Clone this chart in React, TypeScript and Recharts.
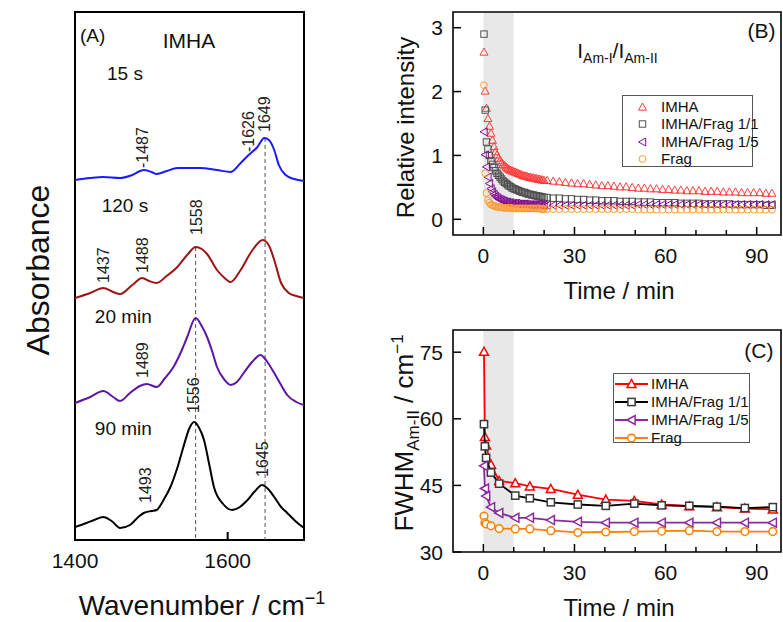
import React from "react";
import {
  ComposedChart,
  ScatterChart,
  Line,
  Scatter,
  XAxis,
  YAxis,
  ReferenceArea,
  ReferenceLine,
  ReferenceDot,
} from "recharts";

const FONT = "Arial, 'Liberation Sans', Helvetica, sans-serif";

// ---------- Panel A: IR spectra (absorbance incl. stacking offset, a.u.)
const WN_15S = [1400, 1420, 1437, 1459, 1475, 1490, 1500, 1507, 1520, 1534, 1550, 1564, 1586, 1604, 1617, 1626, 1639, 1648, 1654, 1661, 1667, 1676, 1687, 1700];
const ABS_15S = [3.6, 3.62, 3.63, 3.62, 3.65, 3.7, 3.68, 3.66, 3.69, 3.72, 3.72, 3.72, 3.7, 3.68, 3.77, 3.84, 3.93, 4.02, 4.0, 3.9, 3.75, 3.65, 3.61, 3.59];

const WN_120S = [1400, 1420, 1437, 1450, 1459, 1475, 1488, 1497, 1507, 1520, 1534, 1548, 1558, 1566, 1573, 1586, 1596, 1604, 1617, 1630, 1646, 1655, 1661, 1670, 1680, 1690, 1700];
const ABS_120S = [2.42, 2.47, 2.52, 2.48, 2.46, 2.55, 2.62, 2.59, 2.57, 2.64, 2.73, 2.86, 2.93, 2.91, 2.86, 2.7, 2.62, 2.58, 2.7, 2.87, 3.0, 2.93, 2.8, 2.57, 2.47, 2.44, 2.42];

const WN_20MIN = [1400, 1420, 1437, 1450, 1459, 1472, 1485, 1494, 1507, 1518, 1529, 1540, 1547, 1558, 1566, 1573, 1580, 1586, 1596, 1604, 1612, 1621, 1632, 1643, 1652, 1661, 1670, 1678, 1690, 1700];
const ABS_20MIN = [1.37, 1.43, 1.49, 1.43, 1.39, 1.47, 1.54, 1.56, 1.53, 1.62, 1.73, 1.9, 2.03, 2.22, 2.14, 2.03, 1.88, 1.73, 1.6, 1.55, 1.58, 1.67, 1.78, 1.85, 1.78, 1.67, 1.55, 1.45, 1.38, 1.35];

const WN_90MIN = [1400, 1415, 1425, 1437, 1448, 1459, 1472, 1483, 1490, 1500, 1507, 1516, 1525, 1534, 1542, 1550, 1556, 1562, 1569, 1576, 1582, 1594, 1606, 1616, 1626, 1636, 1645, 1653, 1661, 1670, 1678, 1690, 1700];
const ABS_90MIN = [0.13, 0.17, 0.2, 0.23, 0.19, 0.12, 0.15, 0.23, 0.27, 0.29, 0.3, 0.4, 0.53, 0.72, 0.93, 1.12, 1.18, 1.13, 1.0, 0.75, 0.53, 0.36, 0.3, 0.33, 0.4, 0.49, 0.55, 0.51, 0.43, 0.33, 0.27, 0.18, 0.12];

const SPECTRA = [
  { name: "15 s", wn: WN_15S, abs: ABS_15S, color: "#1a1aff" },
  { name: "120 s", wn: WN_120S, abs: ABS_120S, color: "#9e1414" },
  { name: "20 min", wn: WN_20MIN, abs: ABS_20MIN, color: "#5b16a8" },
  { name: "90 min", wn: WN_90MIN, abs: ABS_90MIN, color: "#000000" },
];

// text anchors in data coords (wavenumber, absorbance)
const TIME_LABELS = [
  { wn: 1442, a: 4.6, text: "15 s" },
  { wn: 1435, a: 3.28, text: "120 s" },
  { wn: 1426, a: 2.17, text: "20 min" },
  { wn: 1426, a: 1.05, text: "90 min" },
];
const PEAK_LABELS = [
  { wn: 1489, a: 3.72, text: "-1487" },
  { wn: 1627, a: 3.88, text: "-1626" },
  { wn: 1648, a: 4.08, text: "1649" },
  { wn: 1559, a: 3.05, text: "1558" },
  { wn: 1437, a: 2.57, text: "1437" },
  { wn: 1489, a: 2.67, text: "1488" },
  { wn: 1489, a: 1.62, text: "1489" },
  { wn: 1555, a: 1.27, text: "1556" },
  { wn: 1493, a: 0.37, text: "1493" },
  { wn: 1645, a: 0.63, text: "1645" },
];
const DASHED = [
  { wn: 1558, top: 2.93 },
  { wn: 1649, top: 4.02 },
];
const A_X = [1400, 1700];
const A_Y = [0, 5.28];

// ---------- Panel B: I(Am-I)/I(Am-II) vs time
const TIME_B = [0.2, 0.6, 1, 1.5, 2, 2.5, 3,
  3.5, 4, 4.5, 5, 5.5, 6, 6.5, 7, 7.5, 8, 8.5, 9, 9.5, 10, 10.5, 11, 11.5, 12, 12.5, 13, 13.5, 14, 14.5, 15, 15.5, 16, 16.5, 17, 17.5, 18, 18.5, 19, 19.5, 20,
  21, 23, 25, 27, 29, 31, 33, 35, 37, 39, 41, 43, 45, 47, 49, 51, 53, 55, 57, 59, 61, 63, 65, 67, 69, 71, 73, 75, 77, 79, 81, 83, 85, 87, 89, 91, 93, 95];
const RATIO_IMHA = [2.62, 2.01, 1.74, 1.58, 1.46, 1.35, 1.24,
  1.14, 1.06, 1.01, 0.96, 0.92, 0.89, 0.86, 0.84, 0.82, 0.8, 0.78, 0.77, 0.76, 0.75, 0.74, 0.73, 0.72, 0.71, 0.7, 0.69, 0.68, 0.68, 0.67, 0.66, 0.66, 0.65, 0.65, 0.64, 0.64, 0.63, 0.63, 0.62, 0.62, 0.61,
  0.61, 0.6, 0.59, 0.58, 0.57, 0.56, 0.56, 0.55, 0.54, 0.53, 0.53, 0.52, 0.51, 0.51, 0.5, 0.49, 0.49, 0.48, 0.48, 0.47, 0.47, 0.46, 0.46, 0.45, 0.45, 0.45, 0.44, 0.44, 0.44, 0.43, 0.43, 0.43, 0.42, 0.42, 0.42, 0.42, 0.41, 0.41];
const RATIO_11 = [2.9, 1.71, 1.21, 1.1, 1.0, 0.92, 0.86,
  0.81, 0.76, 0.72, 0.69, 0.66, 0.63, 0.6, 0.58, 0.56, 0.54, 0.52, 0.51, 0.49, 0.48, 0.47, 0.46, 0.45, 0.44, 0.43, 0.42, 0.42, 0.41, 0.4, 0.39, 0.39, 0.38, 0.38, 0.37, 0.37, 0.36, 0.36, 0.35, 0.35, 0.34,
  0.34, 0.33, 0.33, 0.32, 0.32, 0.31, 0.31, 0.3, 0.3, 0.29, 0.29, 0.29, 0.28, 0.28, 0.28, 0.27, 0.27, 0.27, 0.26, 0.26, 0.26, 0.26, 0.25, 0.25, 0.25, 0.25, 0.24, 0.24, 0.24, 0.24, 0.24, 0.23, 0.23, 0.23, 0.23, 0.23, 0.22, 0.22];
const RATIO_15 = [1.37, 1.01, 0.82, 0.66, 0.56, 0.48, 0.43,
  0.39, 0.36, 0.34, 0.32, 0.31, 0.3, 0.29, 0.28, 0.27, 0.27, 0.26, 0.26, 0.25, 0.25, 0.25, 0.25, 0.24, 0.24, 0.24, 0.24, 0.24, 0.24, 0.23, 0.23, 0.23, 0.23, 0.23, 0.23, 0.23, 0.23, 0.23, 0.22, 0.22, 0.22,
  0.22, 0.22, 0.22, 0.22, 0.22, 0.22, 0.22, 0.22, 0.22, 0.22, 0.22, 0.22, 0.22, 0.22, 0.22, 0.23, 0.23, 0.23, 0.23, 0.23, 0.23, 0.23, 0.23, 0.23, 0.23, 0.23, 0.23, 0.23, 0.23, 0.23, 0.23, 0.23, 0.23, 0.23, 0.23, 0.23, 0.23, 0.23];
const RATIO_FRAG = [2.1, 0.72, 0.41, 0.3, 0.26, 0.23, 0.22,
  0.21, 0.2, 0.2, 0.19, 0.19, 0.19, 0.18, 0.18, 0.18, 0.18, 0.18, 0.18, 0.17, 0.17, 0.17, 0.17, 0.17, 0.17, 0.17, 0.17, 0.17, 0.17, 0.17, 0.17, 0.17, 0.17, 0.17, 0.17, 0.17, 0.17, 0.17, 0.16, 0.16, 0.16,
  0.16, 0.16, 0.16, 0.16, 0.16, 0.16, 0.16, 0.16, 0.16, 0.16, 0.16, 0.16, 0.16, 0.16, 0.16, 0.15, 0.15, 0.15, 0.15, 0.15, 0.15, 0.15, 0.15, 0.15, 0.15, 0.15, 0.15, 0.15, 0.15, 0.15, 0.15, 0.15, 0.15, 0.15, 0.15, 0.15, 0.15, 0.15];

// ---------- Panel C: FWHM(Am-II) vs time
const TIME_C = [0.2, 0.5, 0.9, 2.5, 5.2, 10.5, 15.3, 22.2, 31.1, 40.3, 49.7, 58.7, 67.8, 76.9, 86.1, 95.3];
const FWHM_IMHA = [75.1, 55.9, 54.0, 49.7, 46.0, 45.5, 44.8, 44.2, 42.9, 41.8, 41.5, 40.7, 40.3, 40.1, 39.8, 39.6];
const FWHM_11 = [58.8, 53.8, 51.2, 47.9, 45.4, 42.7, 42.1, 41.2, 40.7, 40.4, 40.9, 40.5, 40.4, 40.2, 39.9, 40.1];
const FWHM_15 = [49.4, 44.3, 42.6, 40.1, 38.8, 37.7, 37.7, 37.2, 36.8, 36.6, 36.6, 36.6, 36.6, 36.6, 36.6, 36.6];
const FWHM_FRAG = [38.1, 36.6, 36.3, 35.9, 35.3, 35.2, 35.2, 34.8, 34.4, 34.5, 34.6, 34.7, 34.8, 34.6, 34.6, 34.6];

const SERIES_NAMES = ["IMHA", "IMHA/Frag 1/1", "IMHA/Frag 1/5", "Frag"];
const B_STYLE = [
  { kind: "up", color: "#ff3c3c" },
  { kind: "square", color: "#505050" },
  { kind: "left", color: "#820e96" },
  { kind: "circle", color: "#ff9a2e" },
];
const C_STYLE = [
  { kind: "up", line: "#ff0000", mark: "#ff0000" },
  { kind: "square", line: "#000000", mark: "#3a3a3a" },
  { kind: "left", line: "#8b2a9e", mark: "#8b2a9e" },
  { kind: "circle", line: "#ff8000", mark: "#ff8000" },
];
const B_VALUES = [RATIO_IMHA, RATIO_11, RATIO_15, RATIO_FRAG];
const C_VALUES = [FWHM_IMHA, FWHM_11, FWHM_15, FWHM_FRAG];

const T_DOMAIN = [-10, 98];
const T_TICKS = [0, 10, 20, 30, 40, 50, 60, 70, 80, 90];
const B_Y = [-0.246, 3.246];
const B_TICKS = [0, 1, 2, 3];
const C_Y = [30, 80];
const C_TICKS = [30, 45, 60, 75];

function Marker({ kind, cx, cy, size, stroke, fill, sw }: any) {
  const h = size / 2;
  const common = { stroke, fill, strokeWidth: sw };
  if (kind === "up")
    return <polygon {...common} points={`${cx},${cy - h} ${cx - h},${cy + h * 0.8} ${cx + h},${cy + h * 0.8}`} />;
  if (kind === "left")
    return <polygon {...common} points={`${cx - h},${cy} ${cx + h * 0.8},${cy - h} ${cx + h * 0.8},${cy + h}`} />;
  if (kind === "square")
    return <rect {...common} x={cx - h * 0.8} y={cy - h * 0.8} width={h * 1.6} height={h * 1.6} />;
  return <circle {...common} cx={cx} cy={cy} r={h * 0.85} />;
}

// ticks point inward, labels drawn by hand
function SpecTick({ x, y, payload }: any) {
  return (
    <g>
      <line x1={x} x2={x} y1={y} y2={y - 8} stroke="#000" strokeWidth={2} />
      <text x={x} y={y + 28} textAnchor="middle" fontSize={21} fontFamily={FONT} fill="#111">
        {payload.value}
      </text>
    </g>
  );
}

function TimeTick({ x, y, payload }: any) {
  const major = payload.value % 30 === 0;
  return (
    <g>
      <line x1={x} x2={x} y1={y} y2={y - (major ? 8 : 5)} stroke="#000" strokeWidth={1.5} />
      {major && (
        <text x={x} y={y + 28} textAnchor="middle" fontSize={21} fontFamily={FONT} fill="#111">
          {payload.value}
        </text>
      )}
    </g>
  );
}

function ValueTick({ x, y, payload }: any) {
  return (
    <g>
      <line x1={x} x2={x + 8} y1={y} y2={y} stroke="#000" strokeWidth={1.5} />
      <text x={x - 10} y={y + 7.5} textAnchor="end" fontSize={21} fontFamily={FONT} fill="#111">
        {payload.value}
      </text>
    </g>
  );
}

function AxisTitle({ viewBox, variant }: any) {
  const vb = viewBox || { x: 0, y: 0, width: 0, height: 0 };
  const base = { fontFamily: FONT, fill: "#111" };
  if (variant === "wn")
    return (
      <text x={202} y={vb.y + 75} textAnchor="middle" fontSize={28} {...base}>
        Wavenumber / cm<tspan dy={-11} fontSize={18}>−1</tspan>
      </text>
    );
  if (variant === "time")
    return (
      <text x={vb.x + vb.width / 2 + 2} y={vb.y + 64} textAnchor="middle" fontSize={24} {...base}>
        Time / min
      </text>
    );
  const cy = vb.y + vb.height / 2;
  if (variant === "abs")
    return (
      <text x={49} y={cy - 6} transform={`rotate(-90 49 ${cy - 6})`} textAnchor="middle" fontSize={32} {...base}>
        Absorbance
      </text>
    );
  if (variant === "rel")
    return (
      <text x={34} y={cy + 4} transform={`rotate(-90 34 ${cy + 4})`} textAnchor="middle" fontSize={24} {...base}>
        Relative intensity
      </text>
    );
  const fy = cy - 8;
  return (
    <text x={33} y={fy} transform={`rotate(-90 33 ${fy})`} textAnchor="middle" fontSize={26} {...base}>
      FWHM<tspan dy={6} fontSize={17}>Am-II</tspan>
      <tspan dy={-6} fontSize={26}> / cm</tspan>
      <tspan dy={-10} fontSize={17}>−1</tspan>
    </text>
  );
}

const hText = (text: string, size: number, anchor = "start") => (p: any) => (
  <text x={p.cx} y={p.cy} textAnchor={anchor} fontSize={size} fontFamily={FONT} fill="#111">
    {text}
  </text>
);

const vText = (text: string) => (p: any) => (
  <text
    x={p.cx}
    y={p.cy}
    transform={`rotate(-90 ${p.cx} ${p.cy})`}
    textAnchor="start"
    dominantBaseline="central"
    fontSize={16}
    fontFamily={FONT}
    fill="#222"
  >
    {text}
  </text>
);

function PanelA() {
  return (
    <ComposedChart width={340} height={622} margin={{ top: 12, right: 36, bottom: 0, left: 0 }}>
      <XAxis
        type="number"
        dataKey="wn"
        domain={A_X}
        ticks={[1400, 1600]}
        interval={0}
        allowDataOverflow
        height={82}
        tickSize={0}
        tickMargin={0}
        tickLine={false}
        axisLine={false}
        tick={SpecTick}
        label={<AxisTitle variant="wn" />}
      />
      <YAxis
        type="number"
        domain={A_Y}
        allowDataOverflow
        width={75}
        tick={false}
        tickLine={false}
        axisLine={false}
        label={<AxisTitle variant="abs" />}
      />
      <ReferenceArea x1={A_X[0]} x2={A_X[1]} y1={A_Y[0]} y2={A_Y[1]} fill="none" stroke="#000" strokeWidth={2} />
      {DASHED.map((d) => (
        <ReferenceLine
          key={d.wn}
          segment={[
            { x: d.wn, y: d.top },
            { x: d.wn, y: A_Y[0] },
          ]}
          stroke="#555"
          strokeWidth={1}
          strokeDasharray="4 3"
        />
      ))}
      {SPECTRA.map((s) => (
        <Line
          key={s.name}
          data={s.wn.map((wn, i) => ({ wn, a: s.abs[i] }))}
          dataKey="a"
          type="monotone"
          stroke={s.color}
          strokeWidth={2}
          dot={false}
          isAnimationActive={false}
        />
      ))}
      <ReferenceDot x={1406.6} y={4.98} r={0} shape={hText("(A)", 19)} />
      <ReferenceDot x={1515} y={4.92} r={0} shape={hText("IMHA", 21)} />
      {TIME_LABELS.map((t) => (
        <ReferenceDot key={t.text} x={t.wn} y={t.a} r={0} shape={hText(t.text, 19)} />
      ))}
      {PEAK_LABELS.map((p) => (
        <ReferenceDot key={p.text + p.a} x={p.wn} y={p.a} r={0} shape={vText(p.text)} />
      ))}
    </ComposedChart>
  );
}

const ratioNote = (p: any) => (
  <text x={p.cx} y={p.cy} fontSize={21} fontFamily={FONT} fill="#111">
    I<tspan dy={5} fontSize={14}>Am-I</tspan>
    <tspan dy={-5} fontSize={21}>/I</tspan>
    <tspan dy={5} fontSize={14}>Am-II</tspan>
  </text>
);

function TimeAxes({ yDomain, yTicks, yTitle }: any) {
  return [
    <XAxis
      key="x"
      type="number"
      dataKey="t"
      domain={T_DOMAIN}
      ticks={T_TICKS}
      interval={0}
      allowDataOverflow
      height={70}
      tickSize={0}
      tickMargin={0}
      tickLine={false}
      axisLine={false}
      tick={TimeTick}
      label={<AxisTitle variant="time" />}
    />,
    <YAxis
      key="y"
      type="number"
      dataKey="v"
      domain={yDomain}
      ticks={yTicks}
      interval={0}
      allowDataOverflow
      width={73}
      tickSize={0}
      tickMargin={0}
      tickLine={false}
      axisLine={false}
      tick={ValueTick}
      label={<AxisTitle variant={yTitle} />}
    />,
  ];
}

function PanelB() {
  return (
    <ScatterChart width={403} height={305} margin={{ top: 12, right: 2, bottom: 0, left: 0 }}>
      {TimeAxes({ yDomain: B_Y, yTicks: B_TICKS, yTitle: "rel" })}
      <ReferenceArea x1={0} x2={10} y1={B_Y[0]} y2={B_Y[1]} fill="#e8e8e8" fillOpacity={1} stroke="none" />
      <ReferenceArea x1={T_DOMAIN[0]} x2={T_DOMAIN[1]} y1={B_Y[0]} y2={B_Y[1]} fill="none" stroke="#000" strokeWidth={1.6} />
      {B_STYLE.map((s, k) => (
        <Scatter
          key={SERIES_NAMES[k]}
          name={SERIES_NAMES[k]}
          data={TIME_B.map((t, i) => ({ t, v: B_VALUES[k][i] }))}
          fill="none"
          isAnimationActive={false}
          shape={(p: any) => (
            <Marker kind={s.kind} cx={p.cx} cy={p.cy} size={8} stroke={s.color} fill="none" sw={1} />
          )}
        />
      ))}
      <ReferenceDot x={30.9} y={2.525} r={0} shape={ratioNote} />
      <ReferenceDot x={96.2} y={2.84} r={0} shape={hText("(B)", 21, "end")} />
    </ScatterChart>
  );
}

function PanelC() {
  return (
    <ScatterChart width={403} height={317} margin={{ top: 25, right: 2, bottom: 0, left: 0 }}>
      {TimeAxes({ yDomain: C_Y, yTicks: C_TICKS, yTitle: "fwhm" })}
      <ReferenceArea x1={0} x2={10} y1={C_Y[0]} y2={C_Y[1]} fill="#e8e8e8" fillOpacity={1} stroke="none" />
      <ReferenceArea x1={T_DOMAIN[0]} x2={T_DOMAIN[1]} y1={C_Y[0]} y2={C_Y[1]} fill="none" stroke="#000" strokeWidth={1.6} />
      {C_STYLE.map((s, k) => (
        <Scatter
          key={SERIES_NAMES[k]}
          name={SERIES_NAMES[k]}
          data={TIME_C.map((t, i) => ({ t, v: C_VALUES[k][i] }))}
          fill="#fff"
          line={{ stroke: s.line, strokeWidth: 1.8 }}
          lineType="joint"
          isAnimationActive={false}
          shape={(p: any) => (
            <Marker kind={s.kind} cx={p.cx} cy={p.cy} size={9} stroke={s.mark} fill="#fff" sw={1.5} />
          )}
        />
      ))}
      <ReferenceDot x={95.5} y={73.75} r={0} shape={hText("(C)", 21, "end")} />
    </ScatterChart>
  );
}

function LegendBox({ left, top, width, height, rows, withLine }: any) {
  return (
    <div
      style={{
        position: "absolute",
        left,
        top,
        width,
        height,
        border: "1px solid #555",
        boxSizing: "border-box",
        background: "#fff",
      }}
    >
      {rows.map((r: any) => (
        <div
          key={r.name}
          style={{ position: "absolute", left: 0, top: r.top, height: 18, display: "flex", alignItems: "center" }}
        >
          <svg width={withLine ? 37 : 38} height={18} style={{ display: "block" }}>
            {withLine && <line x1={1} x2={34} y1={9} y2={9} stroke={r.line} strokeWidth={1.8} />}
            <Marker
              kind={r.kind}
              cx={withLine ? 17.5 : 19.5}
              cy={9}
              size={withLine ? 9 : 8}
              stroke={r.mark}
              fill={withLine ? "#fff" : "none"}
              sw={withLine ? 1.5 : 1}
            />
          </svg>
          <span style={{ fontSize: 15, fontFamily: FONT, color: "#111", lineHeight: "18px", whiteSpace: "nowrap" }}>
            {r.name}
          </span>
        </div>
      ))}
    </div>
  );
}

export default function App() {
  const bRows = B_STYLE.map((s, i) => ({ name: SERIES_NAMES[i], kind: s.kind, mark: s.color, top: 2 + i * 17.4 }));
  const cRows = C_STYLE.map((s, i) => ({ name: SERIES_NAMES[i], kind: s.kind, mark: s.mark, line: s.line, top: 0.5 + i * 18 }));
  return (
    <div
      style={{
        position: "absolute",
        left: 0,
        top: 0,
        width: 783,
        height: 622,
        background: "#fff",
        overflow: "hidden",
        fontFamily: FONT,
      }}
    >
      <div style={{ position: "absolute", left: 0, top: 0 }}>
        <PanelA />
      </div>
      <div style={{ position: "absolute", left: 380, top: 0 }}>
        <PanelB />
      </div>
      <div style={{ position: "absolute", left: 380, top: 305 }}>
        <PanelC />
      </div>
      <LegendBox left={622} top={95} width={131} height={72} rows={bRows} withLine={false} />
      <LegendBox left={613} top={373} width={137} height={70} rows={cRows} withLine />
    </div>
  );
}
